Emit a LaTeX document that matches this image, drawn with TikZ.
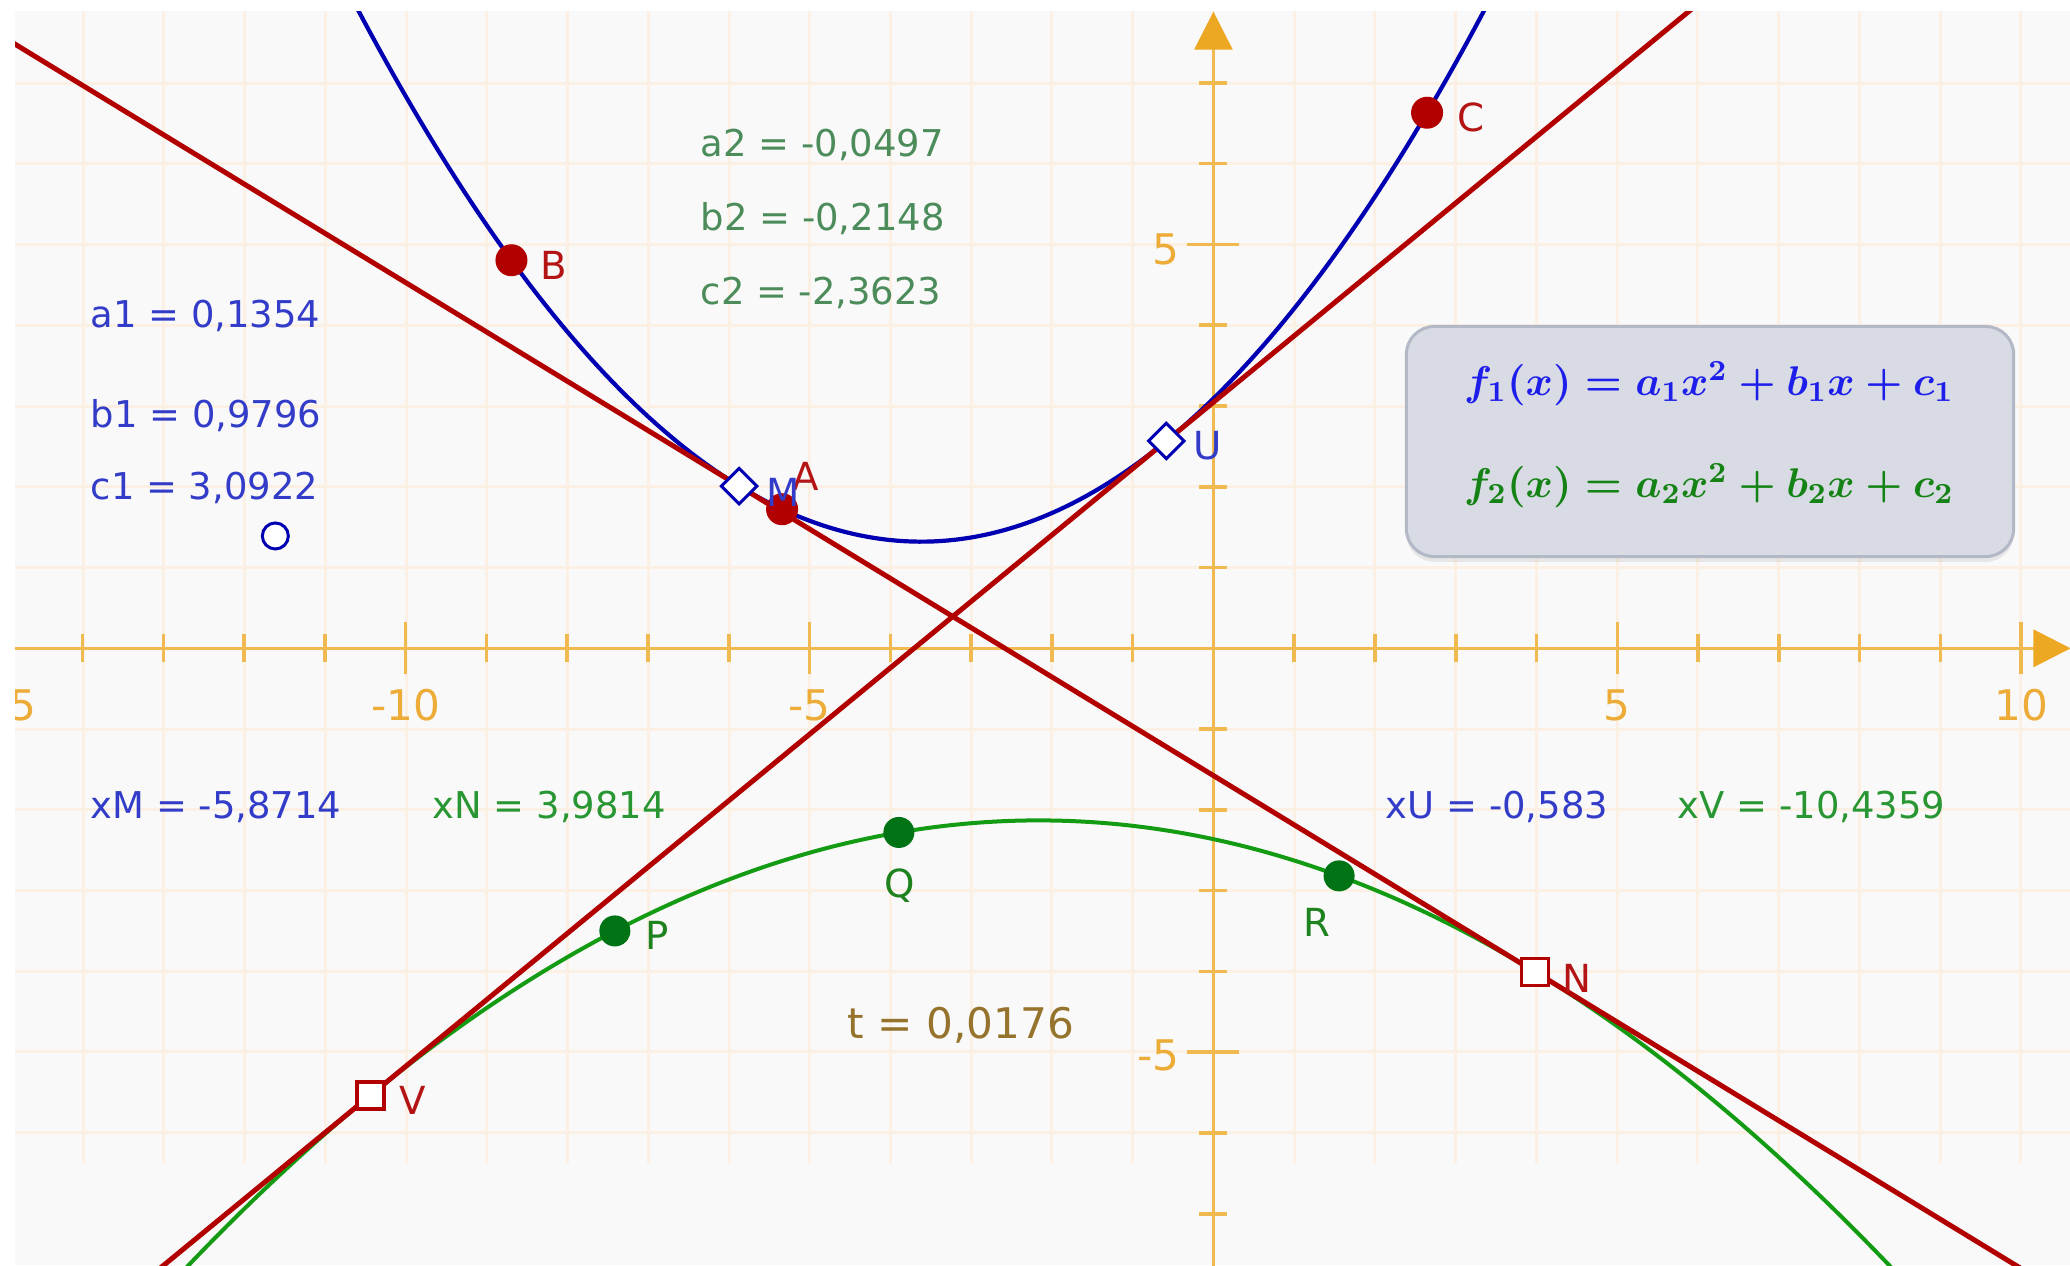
\RequirePackage{fix-cm}
\documentclass[tikz,border=0pt]{standalone}
\usepackage[no-math]{fontspec}
\setmainfont{DejaVu Sans}
\usetikzlibrary{calc,shadows}
\definecolor{bgc}{RGB}{249,249,249}
\definecolor{gridc}{RGB}{251,240,227}
\definecolor{axc}{RGB}{241,186,80}
\definecolor{axtip}{RGB}{236,168,35}
\definecolor{axlab}{RGB}{236,172,55}
\definecolor{redc}{RGB}{178,0,0}
\definecolor{bluec}{RGB}{0,0,178}
\definecolor{greenc}{RGB}{20,155,20}
\definecolor{gptc}{RGB}{0,115,20}
\definecolor{btxt}{RGB}{50,60,200}
\definecolor{gtxt}{RGB}{75,140,90}
\definecolor{gtxt2}{RGB}{40,150,50}
\definecolor{ttxt}{RGB}{150,115,45}
\definecolor{rlab}{RGB}{180,20,20}
\definecolor{glab}{RGB}{30,130,30}
\definecolor{boxfill}{RGB}{216,219,227}
\definecolor{boxdraw}{RGB}{178,184,198}
\definecolor{fblue}{RGB}{30,30,235}
\definecolor{fgreen}{RGB}{20,130,20}
\newsavebox{\formulaone}
\newsavebox{\formulatwo}
\begin{document}
\sbox{\formulaone}{\fontsize{11.8}{14}\selectfont\color{fblue}\boldmath$f_1(x) = a_1x^2 + b_1x + c_1$}
\sbox{\formulatwo}{\fontsize{11.8}{14}\selectfont\color{fgreen}\boldmath$f_2(x) = a_2x^2 + b_2x + c_2$}
\begin{tikzpicture}[x=0.01cm,y=-0.01cm,
  val/.style={anchor=base west, font=\fontsize{10.5}{12}\selectfont, inner sep=0pt},
  plab/.style={font=\fontsize{11}{13}\selectfont, inner sep=0pt},
  tlab/.style={font=\fontsize{12}{14}\selectfont, text=axlab, inner sep=0pt},
  gridline/.style={gridc, line width=0.03cm},
  axline/.style={axc, line width=0.035cm},
  redline/.style={redc, line width=0.05cm},
  rpt/.style={circle, fill=redc, inner sep=0pt, minimum size=0.32cm},
  gpt/.style={circle, fill=gptc, inner sep=0pt, minimum size=0.31cm},
  dpt/.style={rectangle, rotate=45, draw=bluec, fill=white, line width=0.03cm, inner sep=0pt, minimum size=0.25cm},
  spt/.style={rectangle, draw=redc, fill=white, line width=0.035cm, inner sep=0pt, minimum size=0.27cm},
  opt/.style={circle, draw=bluec, fill=white, line width=0.03cm, inner sep=0pt, minimum size=0.26cm},
  ]
\useasboundingbox (0,0) rectangle (2070,1265);
\fill[white] (0,0) rectangle (2070,1265);
\fill[bgc] (15,11) rectangle (2070,1265);
\begin{scope}
\clip (15,11) rectangle (2070,1265);
\foreach \i in {-14,...,10} { \draw[gridline] ({1213.4+80.73*\i},11) -- ({1213.4+80.73*\i},1163); }
\foreach \j in {-6,...,7} { \draw[gridline] (15,{648.3-80.73*\j}) -- (2070,{648.3-80.73*\j}); }
\begin{scope}[shift={(1213.4,648.3)}, x=0.8073cm, y=0.8073cm]
  \draw[axline] (-15.2,0) -- (10.16,0);
  \fill[axtip] (10.611,0) -- (10.152,0.235) -- (10.152,-0.235) -- cycle;
  \draw[axline] (0,-7.8) -- (0,7.42);
  \fill[axtip] (0,7.882) -- (-0.24,7.411) -- (0.24,7.411) -- cycle;
  \foreach \i in {-14,-13,-12,-11,-9,-8,-7,-6,-4,-3,-2,-1,1,2,3,4,6,7,8,9}
    { \draw[axline] (\i,-0.173) -- (\i,0.173); }
  \foreach \i in {-15,-10,-5,5,10}
    { \draw[axline] (\i,-0.322) -- (\i,0.322); }
  \foreach \j in {-7,-6,-4,-3,-2,-1,1,2,3,4,6,7}
    { \draw[axline] (-0.173,\j) -- (0.173,\j); }
  \foreach \j in {-5,5}
    { \draw[axline] (-0.322,\j) -- (0.322,\j); }
  \node[tlab, anchor=base] (xm15) at (-15,-0.888) {-15};
  \node[tlab, anchor=base] (xm10) at (-10,-0.888) {-10};
  \node[tlab, anchor=base] (xm5) at (-5,-0.888) {-5};
  \node[tlab, anchor=base] (xp5) at (5,-0.888) {5};
  \node[tlab, anchor=base] (xp10) at (10,-0.888) {10};
  \node[tlab, anchor=base east] (yp5) at (-0.411,4.748) {5};
  \node[tlab, anchor=base east] (ym5) at (-0.411,-5.221) {-5};
  \draw[bluec, line width=0.042cm, domain=-10.8:3.6, samples=160] plot (\x, {0.1354*\x*\x+0.9796*\x+3.0922});
  \draw[greenc, line width=0.04cm, domain=-15.2:10.7, samples=200] plot (\x, {-0.0497*\x*\x-0.2148*\x-2.3623});
  \coordinate (M) at (-5.8714,2.0083);
  \coordinate (N) at (3.9814,-4.0053);
  \coordinate (U) at (-0.583,2.5671);
  \coordinate (V) at (-10.4359,-5.5334);
  \coordinate (A) at (-5.34,1.7221);
  \coordinate (B) at (-8.69,4.8044);
  \coordinate (C) at (2.645,6.6305);
  \coordinate (P) at (-7.41,-3.4985);
  \coordinate (Q) at (-3.894,-2.2795);
  \coordinate (R) at (1.556,-2.8169);
  \coordinate (O) at (-11.613,1.391);
  \draw[redline] ($(M)!-1!(N)$) -- ($(N)!-0.8!(M)$);
  \draw[redline] ($(V)!-0.5!(U)$) -- ($(U)!-1.2!(V)$);
  \node[opt] (Opt) at (O) {};
  \node[dpt] (Mpt) at (M) {};
  \node[dpt] (Upt) at (U) {};
  \node[spt] (Npt) at (N) {};
  \node[spt] (Vpt) at (V) {};
  \node[rpt] (Apt) at (A) {};
  \node[rpt] (Bpt) at (B) {};
  \node[rpt] (Cpt) at (C) {};
  \node[gpt] (Ppt) at (P) {};
  \node[gpt] (Qpt) at (Q) {};
  \node[gpt] (Rpt) at (R) {};
\end{scope}
\end{scope}
\node[plab, text=rlab] (Alab) at (806,476) {A};
\node[plab, text=btxt] (Mlab) at (783,492) {M};
\node[plab, text=rlab] (Blab) at (554,265) {B};
\node[plab, text=rlab] (Clab) at (1471,117) {C};
\node[plab, text=btxt] (Ulab) at (1208,446) {U};
\node[plab, text=rlab] (Nlab) at (1577,978) {N};
\node[plab, text=rlab] (Vlab) at (413,1100) {V};
\node[plab, text=glab] (Plab) at (657,935) {P};
\node[plab, text=glab] (Qlab) at (900,886) {Q};
\node[plab, text=glab] (Rlab) at (1317,922) {R};
\node[val, text=btxt] (a1) at (90,327) {a1 = 0,1354};
\node[val, text=btxt] (b1) at (90,427) {b1 = 0,9796};
\node[val, text=btxt] (c1) at (90,499) {c1 = 3,0922};
\node[val, text=gtxt] (a2) at (700,156) {a2 = -0,0497};
\node[val, text=gtxt] (b2) at (700,230) {b2 = -0,2148};
\node[val, text=gtxt] (c2) at (700,304) {c2 = -2,3623};
\node[val, text=btxt] (xM) at (90,818) {xM = -5,8714};
\node[val, text=gtxt2] (xN) at (432,818) {xN = 3,9814};
\node[val, text=btxt] (xU) at (1385,818) {xU = -0,583};
\node[val, text=gtxt2] (xV) at (1677,818) {xV = -10,4359};
\node[val, text=ttxt, font=\fontsize{12}{14}\selectfont] (tval) at (847,1038) {t = 0,0176};
\node[draw=boxdraw, fill=boxfill, line width=0.03cm, rounded corners=0.28cm,
      minimum width=6.07cm, minimum height=2.30cm, inner sep=0pt,
      drop shadow={shadow xshift=0pt, shadow yshift=-1.5pt, opacity=0.15}] (fbox) at (1710,441.5) {};
\node[inner sep=0pt] (fone) at (1709,384) {\usebox{\formulaone}};
\node[inner sep=0pt] (ftwo) at (1709,486) {\usebox{\formulatwo}};
\end{tikzpicture}
\end{document}
